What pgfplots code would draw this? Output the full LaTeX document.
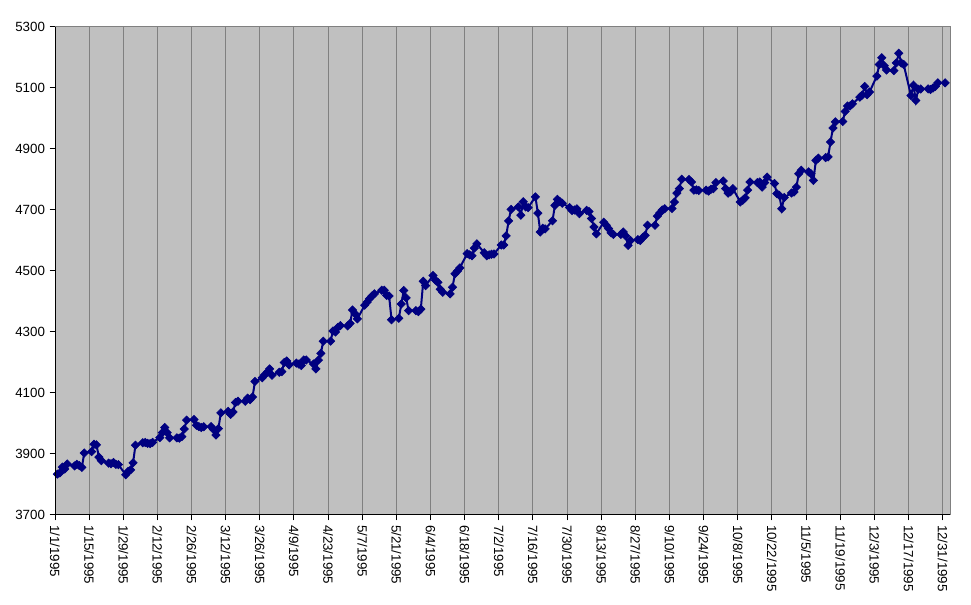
\documentclass[border=0pt]{standalone}
\usepackage{pgfplots}
\pgfplotsset{compat=1.18}
\usepackage{fontspec}
\setmainfont{Liberation Sans}
\definecolor{plotbg}{HTML}{C0C0C0}
\definecolor{navy}{HTML}{000080}
\definecolor{gridgray}{HTML}{808080}
\begin{document}
\begin{tikzpicture}
\begin{axis}[
  name=ax,
  scale only axis,
  width=671.25pt, height=366pt,
  xmin=0, xmax=367, ymin=3700, ymax=5300,
  axis background/.style={fill=plotbg},
  axis line style={gridgray, line width=0.75pt},
  xtick={0,14,...,364},
  xticklabels={1/1/1995,1/15/1995,1/29/1995,2/12/1995,2/26/1995,3/12/1995,3/26/1995,4/9/1995,4/23/1995,5/7/1995,5/21/1995,6/4/1995,6/18/1995,7/2/1995,7/16/1995,7/30/1995,8/13/1995,8/27/1995,9/10/1995,9/24/1995,10/8/1995,10/22/1995,11/5/1995,11/19/1995,12/3/1995,12/17/1995,12/31/1995},
  x tick label style={rotate=-90, anchor=west, font=\fontsize{10}{12}\selectfont},
  ytick={3700,3900,...,5300},
  y tick label style={font=\fontsize{10}{12}\selectfont},
  /pgf/number format/assume math mode=true,
  /pgf/number format/set thousands separator={},
  xmajorgrids,
  major grid style={gridgray, line width=0.75pt},
  tick align=outside,
  major tick length=4pt,
  tick style={black, line width=0.75pt},
  xtick pos=bottom, ytick pos=left,
  clip=false,
]
\addplot[navy, line width=1.5pt, mark=square*, mark size=2.2pt, mark options={rotate=45, fill=navy, draw=navy, line width=0.5pt}] coordinates {
(1,3834)(2,3838)(3,3857)(4,3851)(5,3867)
(8,3861)(9,3866)(10,3862)(11,3856)(12,3903)
(15,3908)(16,3932)(17,3930)(18,3890)(19,3878)
(22,3870)(23,3868)(24,3872)(25,3866)(26,3865)
(29,3832)(30,3843)(31,3848)(32,3871)(33,3929)
(36,3937)(37,3938)(38,3935)(39,3934)(40,3938)
(43,3954)(44,3970)(45,3987)(46,3970)(47,3953)
(50,3953)(51,3952)(52,3957)(53,3982)(54,4011)
(57,4013)(58,3994)(59,3990)(60,3987)(61,3989)
(64,3990)(65,3980)(66,3962)(67,3983)(68,4035)
(71,4040)(72,4030)(73,4038)(74,4069)(75,4073)
(78,4073)(79,4083)(80,4078)(81,4087)(82,4138)
(85,4150)(86,4160)(87,4168)(88,4179)(89,4158)
(92,4168)(93,4170)(94,4200)(95,4205)(96,4192)
(99,4198)(100,4195)(101,4190)(102,4208)(103,4208)
(106,4195)(107,4179)(108,4208)(109,4230)(110,4270)
(113,4270)(114,4303)(115,4300)(116,4315)(117,4321)
(120,4320)(121,4328)(122,4372)(123,4360)(124,4343)
(127,4388)(128,4398)(129,4409)(130,4418)(131,4425)
(134,4437)(135,4437)(136,4420)(137,4418)(138,4340)
(141,4345)(142,4392)(143,4436)(144,4412)(145,4370)
(148,4370)(149,4367)(150,4375)(151,4466)(152,4452)
(155,4485)(156,4470)(157,4463)(158,4440)(159,4430)
(162,4425)(163,4447)(164,4491)(165,4500)(166,4510)
(169,4557)(170,4553)(171,4550)(172,4575)(173,4589)
(176,4560)(177,4550)(178,4553)(179,4555)(180,4556)
(183,4585)(184,4585)(185,4615)(186,4664)(187,4702)
(190,4710)(191,4683)(192,4727)(193,4710)(194,4708)
(197,4743)(198,4690)(199,4628)(200,4640)(201,4638)
(204,4665)(205,4715)(206,4735)(207,4728)(208,4722)
(211,4708)(212,4698)(213,4700)(214,4704)(215,4688)
(218,4699)(219,4695)(220,4672)(221,4644)(222,4622)
(225,4660)(226,4650)(227,4639)(228,4625)(229,4620)
(232,4620)(233,4628)(234,4615)(235,4584)(236,4600)
(239,4603)(240,4600)(241,4610)(242,4617)(243,4650)
(246,4650)(247,4680)(248,4690)(249,4700)(250,4704)
(253,4705)(254,4726)(255,4755)(256,4770)(257,4801)
(260,4800)(261,4792)(262,4765)(263,4766)(264,4764)
(267,4765)(268,4762)(269,4768)(270,4770)(271,4790)
(274,4795)(275,4770)(276,4755)(277,4760)(278,4770)
(281,4726)(282,4732)(283,4740)(284,4765)(285,4792)
(288,4790)(289,4792)(290,4775)(291,4790)(292,4808)
(295,4787)(296,4754)(297,4748)(298,4704)(299,4741)
(302,4756)(303,4759)(304,4775)(305,4819)(306,4830)
(309,4825)(310,4819)(311,4797)(312,4863)(313,4870)
(316,4872)(317,4874)(318,4923)(319,4969)(320,4989)
(323,4990)(324,5023)(325,5041)(326,5041)(327,5048)
(330,5070)(331,5077)(332,5105)(333,5078)(334,5087)
(337,5139)(338,5177)(339,5199)(340,5173)(341,5159)
(344,5157)(345,5182)(346,5214)(347,5182)(348,5177)
(351,5075)(352,5109)(353,5059)(354,5096)(355,5097)
(358,5097)(359,5095)(360,5100)(361,5105)(362,5117)
(365,5117)
};
\end{axis}
\draw[black, line width=0.75pt] (ax.north west) -- (ax.south west) -- (ax.south east);
\pgfresetboundingbox
\path ([xshift=-41.25pt,yshift=-67.5pt]ax.south west) rectangle ([xshift=15.75pt,yshift=20.25pt]ax.north east);
\end{tikzpicture}
\end{document}
